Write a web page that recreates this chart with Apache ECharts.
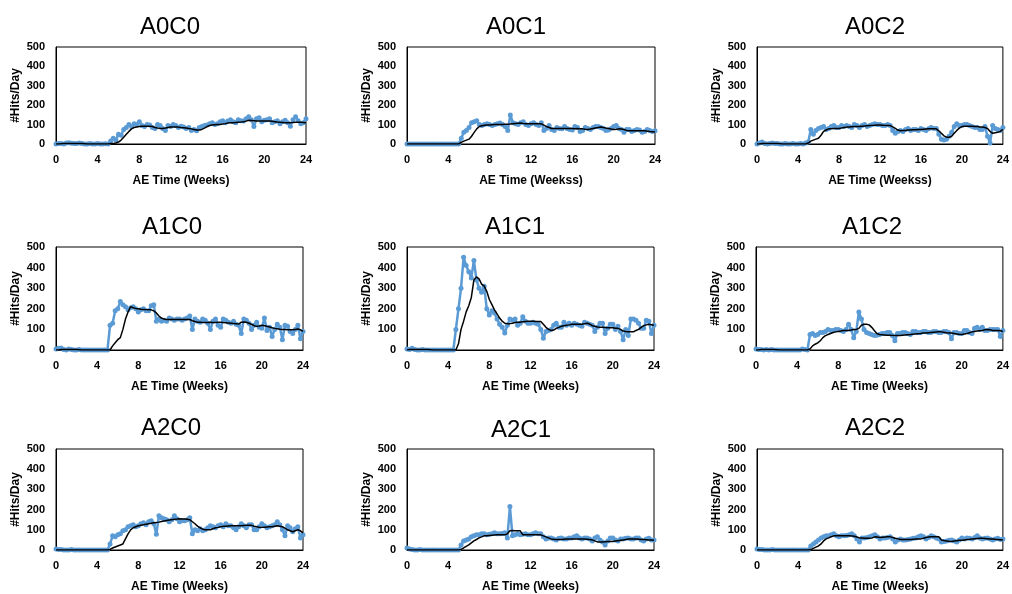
<!DOCTYPE html>
<html>
<head>
<meta charset="utf-8">
<script src="https://cdn.jsdelivr.net/npm/echarts@6/dist/echarts.min.js"></script>
<style>html,body{margin:0;padding:0;background:#fff}#c{width:1012px;height:594px}</style>
</head>
<body>
<div id="c"></div>
<script>
// panel titles and axis names
const panelTitles = ['A0C0','A0C1','A0C2','A1C0','A1C1','A1C2','A2C0','A2C1','A2C2'];
const xNames = ['AE Time (Weeks)','AE Time (Weekss)','AE Time (Weekss)','AE Time (Weeks)','AE Time (Weeks)','AE Time (Weeks)','AE Time (Weeks)','AE Time (Weeks)','AE Time (Weeks)'];
const yName = '#Hits/Day';
const xTicks = [0,4,8,12,16,20,24];
const yTicks = [0,100,200,300,400,500];

// values sampled every quarter week (rows = weeks 0..23, then week 24)
const A0C0_daily = [
0,3,2,0, 5,6,4,2, 3,5,2,0, 0,2,0,0, 2,0,0,1,
0,15,30,20, 50,45,75,85, 100,90,105,100, 115,95,90,100, 98,85,80,100,
95,80,70,95, 90,100,95,85, 92,88,80,85, 70,75,68,85, 90,95,98,105,
110,100,105,115, 120,110,118,125, 115,110,125,120, 118,130,140,125, 90,130,135,115,
122,125,130,110, 115,120,105,115, 122,110,92,125, 140,120,105,110, 130];
const A0C0_avg = [
0,0,1,2, 3,3,3,3, 3,3,2,1, 0,0,0,0, 0,0,0,0,
0,2,3,5, 10,20,35,50, 65,78,85,88, 90,91,92,92, 92,90,85,82,
80,80,82,85, 88,88,88,87, 85,84,82,80, 78,75,72,72, 75,82,90,95,
98,99,100,101, 103,105,108,109, 110,111,112,113, 115,118,122,121, 120,119,118,118,
118,118,118,117, 115,113,112,111, 110,110,110,111, 112,112,112,111, 110];

const A0C1_daily = [
0,0,0,0, 0,0,0,0, 0,0,0,0, 0,0,0,0, 0,0,0,0,
0,30,60,70, 85,110,115,120, 100,95,100,105, 100,95,100,105, 108,100,90,70,
150,110,105,100, 110,115,100,95, 105,110,100,95, 110,70,80,95, 75,70,85,80,
78,90,80,75, 72,90,85,65, 70,85,80,75, 85,90,90,85, 80,70,72,80,
90,95,80,75, 60,75,75,65, 70,75,72,60, 65,75,70,65, 68];
const A0C1_avg = [
0,0,0,0, 0,0,0,0, 0,0,0,0, 0,0,0,0, 0,0,0,0,
0,8,15,20, 25,40,60,78, 90,94,97,98, 98,99,100,100, 100,101,102,102,
103,105,106,107, 108,106,105,105, 105,105,104,104, 104,97,90,85, 80,80,80,80,
80,80,80,80, 80,79,80,78, 78,76,75,77, 80,83,85,88, 85,82,80,77,
75,76,78,77, 75,70,68,68, 68,68,68,68, 68,66,64,63, 62];

const A0C2_daily = [
0,5,10,2, 0,3,5,3, 2,0,0,2, 0,0,3,0, 0,2,0,5,
10,75,50,70, 80,85,90,75, 80,90,95,85, 85,95,90,95, 90,85,100,95,
85,95,100,90, 95,100,105,100, 100,95,95,100, 95,70,55,65, 70,65,75,80,
70,75,75,70, 80,75,70,78, 85,80,80,50, 25,20,25,40, 60,90,105,95,
95,100,100,95, 90,85,85,75, 75,90,40,5, 95,80,75,70, 85];
const A0C2_avg = [
0,0,2,3, 3,3,3,3, 2,1,0,0, 0,0,0,0, 0,0,0,0,
5,15,20,25, 30,45,65,72, 78,79,80,80, 80,82,85,87, 88,89,90,90,
90,92,93,94, 95,96,97,98, 98,97,96,95, 95,88,80,72, 68,70,70,72,
72,73,74,75, 75,76,77,78, 78,78,78,68, 55,42,35,35, 40,55,70,82,
90,92,92,92, 92,90,90,88, 88,85,80,65, 55,58,60,65, 75];

const A1C0_daily = [
5,8,10,3, 0,5,3,0, 0,2,0,0, 0,0,0,0, 0,0,0,0,
0,120,130,190, 200,235,220,210, 195,205,210,200, 185,195,200,190, 190,215,220,140,
150,140,145,140, 155,150,145,150, 150,145,150,155, 165,100,150,140, 135,150,145,130,
100,140,150,120, 110,150,145,135, 130,140,125,120, 80,150,145,130, 100,120,135,110,
105,155,95,110, 65,100,125,110, 50,120,115,90, 80,100,120,55, 90];
const A1C0_avg = [
0,0,2,3, 3,3,3,3, 2,1,0,0, 0,0,0,0, 0,0,0,0,
0,0,20,35, 50,60,100,150, 185,210,205,202, 200,198,197,196, 195,195,190,180,
165,155,150,148, 148,148,148,148, 148,148,148,148, 148,142,138,135, 135,133,133,134,
135,134,134,135, 135,133,132,131, 130,129,128,126, 135,136,135,130, 125,118,115,117,
120,118,115,112, 108,105,103,101, 100,99,98,98, 98,100,102,98, 90];

const A1C1_daily = [
5,3,8,2, 0,0,2,0, 0,0,0,0, 0,0,0,0, 0,0,0,100,
200,300,450,410, 380,350,435,340, 300,280,310,200, 170,190,180,150, 125,110,82,120,
150,145,150,120, 130,162,140,130, 130,135,130,125, 100,57,90,95, 100,120,130,110,
110,135,120,130, 120,130,125,120, 115,135,130,125, 120,90,110,130, 130,80,105,125,
125,100,115,90, 50,100,70,150, 150,145,130,105, 105,145,140,80, 120];
const A1C1_avg = [
0,2,3,3, 3,3,3,3, 2,1,0,0, 0,0,0,0, 0,0,0,0,
30,100,140,185, 215,255,340,355, 345,320,310,285, 245,220,195,175, 155,140,130,128,
128,130,133,135, 135,137,138,139, 140,139,138,138, 138,125,110,100, 95,97,105,110,
115,118,120,122, 125,125,125,125, 125,128,130,126, 118,115,112,111, 110,109,108,108,
108,106,105,100, 92,90,89,88, 88,95,100,110, 118,122,125,123, 120];

const A1C2_daily = [
5,3,2,0, 3,0,2,0, 0,0,0,0, 0,0,0,0, 0,0,5,3,
0,75,80,70, 75,85,85,90, 100,95,95,100, 100,95,90,100, 125,100,60,90,
185,150,100,85, 80,75,70,72, 75,80,80,85, 85,70,45,80, 80,85,85,80,
75,90,90,85, 85,90,90,85, 85,90,90,85, 85,90,90,85, 55,85,85,80,
80,95,95,85, 80,105,110,100, 110,95,95,100, 100,100,100,65, 95];
const A1C2_avg = [
0,0,2,3, 3,3,3,2, 1,0,0,0, 0,0,0,0, 0,0,0,0,
0,5,20,28, 35,45,60,70, 75,80,85,88, 90,92,95,95, 95,97,100,100,
105,120,125,125, 122,110,95,80, 75,74,73,72, 72,71,70,70, 70,72,73,74,
75,77,78,79, 80,82,83,84, 85,86,87,88, 88,86,84,83, 82,80,78,76,
75,78,80,84, 88,90,92,94, 95,98,100,98, 95,95,95,93, 90];

const A2C0_daily = [
5,3,2,0, 0,0,2,0, 0,0,0,0, 0,0,0,0, 0,0,0,0,
0,30,70,65, 75,80,95,100, 115,120,125,115, 120,130,135,125, 140,145,130,78,
170,160,155,150, 140,150,170,155, 140,145,145,150, 160,80,100,95, 105,95,100,110,
120,115,110,120, 125,115,130,120, 120,110,100,115, 130,120,110,125, 125,100,100,115,
130,120,110,115, 120,125,140,125, 100,70,120,110, 90,105,115,60, 75];
const A2C0_avg = [
0,0,0,0, 0,0,0,0, 0,0,0,0, 0,0,0,0, 0,0,0,0,
0,3,10,15, 20,25,30,55, 80,100,110,115, 120,123,125,128, 130,132,135,136,
138,141,144,146, 148,150,152,153, 155,154,153,152, 150,140,130,118, 110,103,100,100,
100,105,110,112, 115,117,118,119, 120,120,120,120, 120,121,122,122, 122,118,115,113,
112,113,114,115, 115,118,120,118, 115,108,100,95, 90,95,100,95, 85];

const A2C1_daily = [
10,5,3,0, 0,2,0,0, 0,0,0,0, 0,0,0,0, 0,0,0,0,
0,25,45,50, 55,65,70,75, 75,80,80,75, 78,80,85,80, 80,82,85,60,
215,70,75,80, 75,78,80,75, 75,80,85,80, 80,65,55,60, 60,55,50,58,
60,55,55,60, 60,65,70,60, 55,60,60,55, 45,60,65,50, 40,25,45,60,
60,50,45,55, 55,58,60,55, 55,60,60,50, 45,55,58,50, 50];
const A2C1_avg = [
0,0,0,0, 0,0,0,0, 0,0,0,0, 0,0,0,0, 0,0,0,0,
0,3,10,18, 25,35,45,52, 60,65,70,71, 72,73,74,75, 75,75,75,80,
95,96,95,95, 95,75,75,75, 75,75,75,75, 75,70,65,60, 55,53,52,52,
52,53,54,55, 55,55,55,55, 55,54,53,52, 50,45,40,40, 40,41,42,42,
42,44,46,48, 50,52,54,55, 55,54,53,52, 52,51,50,49, 48];

const A2C2_daily = [
5,3,2,0, 0,0,2,0, 0,0,0,0, 0,0,0,0, 0,0,0,0,
0,20,30,40, 50,60,65,70, 70,75,80,70, 65,70,70,72, 75,80,70,55,
40,60,60,62, 65,70,75,65, 55,60,60,62, 65,55,40,50, 55,50,50,52,
55,58,60,65, 70,65,55,62, 70,65,60,55, 40,42,45,48, 50,45,40,50,
60,55,60,58, 55,62,70,60, 55,58,60,55, 50,55,58,52, 55];
const A2C2_avg = [
0,0,0,0, 0,0,0,0, 0,0,0,0, 0,0,0,0, 0,0,0,0,
0,2,8,14, 20,30,45,55, 60,66,70,71, 72,71,71,70, 70,69,68,64,
60,59,58,58, 58,60,65,64, 62,63,64,65, 65,62,58,55, 52,52,52,52,
52,53,54,55, 55,58,62,64, 65,65,65,65, 50,47,45,43, 42,44,46,48,
48,50,52,53, 55,56,57,58, 58,57,56,55, 55,53,52,51, 50];

const dailySets = [A0C0_daily,A0C1_daily,A0C2_daily,A1C0_daily,A1C1_daily,A1C2_daily,A2C0_daily,A2C1_daily,A2C2_daily];
const avgSets = [A0C0_avg,A0C1_avg,A0C2_avg,A1C0_avg,A1C1_avg,A1C2_avg,A2C0_avg,A2C1_avg,A2C2_avg];

// layout (pixels)
const grids = [
  {left:56, top:47, width:250, height:97},
  {left:407, top:47, width:248, height:97},
  {left:757, top:47, width:249, height:97},
  {left:56, top:247, width:247, height:103},
  {left:407, top:247, width:247, height:103},
  {left:756, top:247, width:248, height:103},
  {left:56, top:449, width:247, height:102},
  {left:407, top:449, width:247, height:102},
  {left:757, top:449, width:247, height:102}
];
const titlePos = [[165,10],[511,10],[870,10],[167,210],[510,210],[867,210],[166,411],[516,413],[870,411]];

const font = '"Liberation Sans", Arial, sans-serif';
const option = {
  animation:false,
  backgroundColor:'#fff',
  title: panelTitles.map((t,i)=>({
    text:t, left:titlePos[i][0], top:titlePos[i][1], textAlign:'center',
    textStyle:{fontFamily:font, fontSize:24, fontWeight:'normal', color:'#000'}
  })),
  grid: grids.map(g=>Object.assign({show:true, borderColor:'#000', borderWidth:1, backgroundColor:'transparent', containLabel:false}, g)),
  xAxis: grids.map((g,i)=>({
    type:'value', gridIndex:i, min:xTicks[0], max:xTicks[xTicks.length-1], interval:xTicks[1]-xTicks[0],
    name:xNames[i], nameLocation:'middle', nameGap:31,
    nameTextStyle:{fontFamily:font, fontSize:12, fontWeight:'bold', color:'#000'},
    axisLine:{show:true, lineStyle:{color:'#000', width:1}}, axisTick:{show:false}, splitLine:{show:false},
    axisLabel:{fontFamily:font, fontSize:11, fontWeight:'bold', color:'#000', margin:10}
  })),
  yAxis: grids.map((g,i)=>({
    type:'value', gridIndex:i, min:yTicks[0], max:yTicks[yTicks.length-1], interval:yTicks[1]-yTicks[0],
    name:yName, nameLocation:'middle', nameGap:34,
    nameTextStyle:{fontFamily:font, fontSize:12, fontWeight:'bold', color:'#000'},
    axisLine:{show:true, lineStyle:{color:'#000', width:1}}, axisTick:{show:false}, splitLine:{show:false},
    axisLabel:{fontFamily:font, fontSize:11, fontWeight:'bold', color:'#000', margin:11}
  })),
  series: []
};
dailySets.forEach((vals,i)=>{
  option.series.push({
    type:'line', xAxisIndex:i, yAxisIndex:i,
    data: vals.map((v,k)=>[k/4, v]),
    symbol:'circle', symbolSize:5, showAllSymbol:true,
    lineStyle:{color:'#5B9BD5', width:2.5}, itemStyle:{color:'#5B9BD5'}, z:2
  });
});
avgSets.forEach((vals,i)=>{
  option.series.push({
    type:'line', xAxisIndex:i, yAxisIndex:i,
    data: vals.map((v,k)=>[k/4, v]),
    symbol:'none', lineStyle:{color:'#000', width:1.5}, z:3
  });
});
echarts.init(document.getElementById('c')).setOption(option);
</script>
</body>
</html>
